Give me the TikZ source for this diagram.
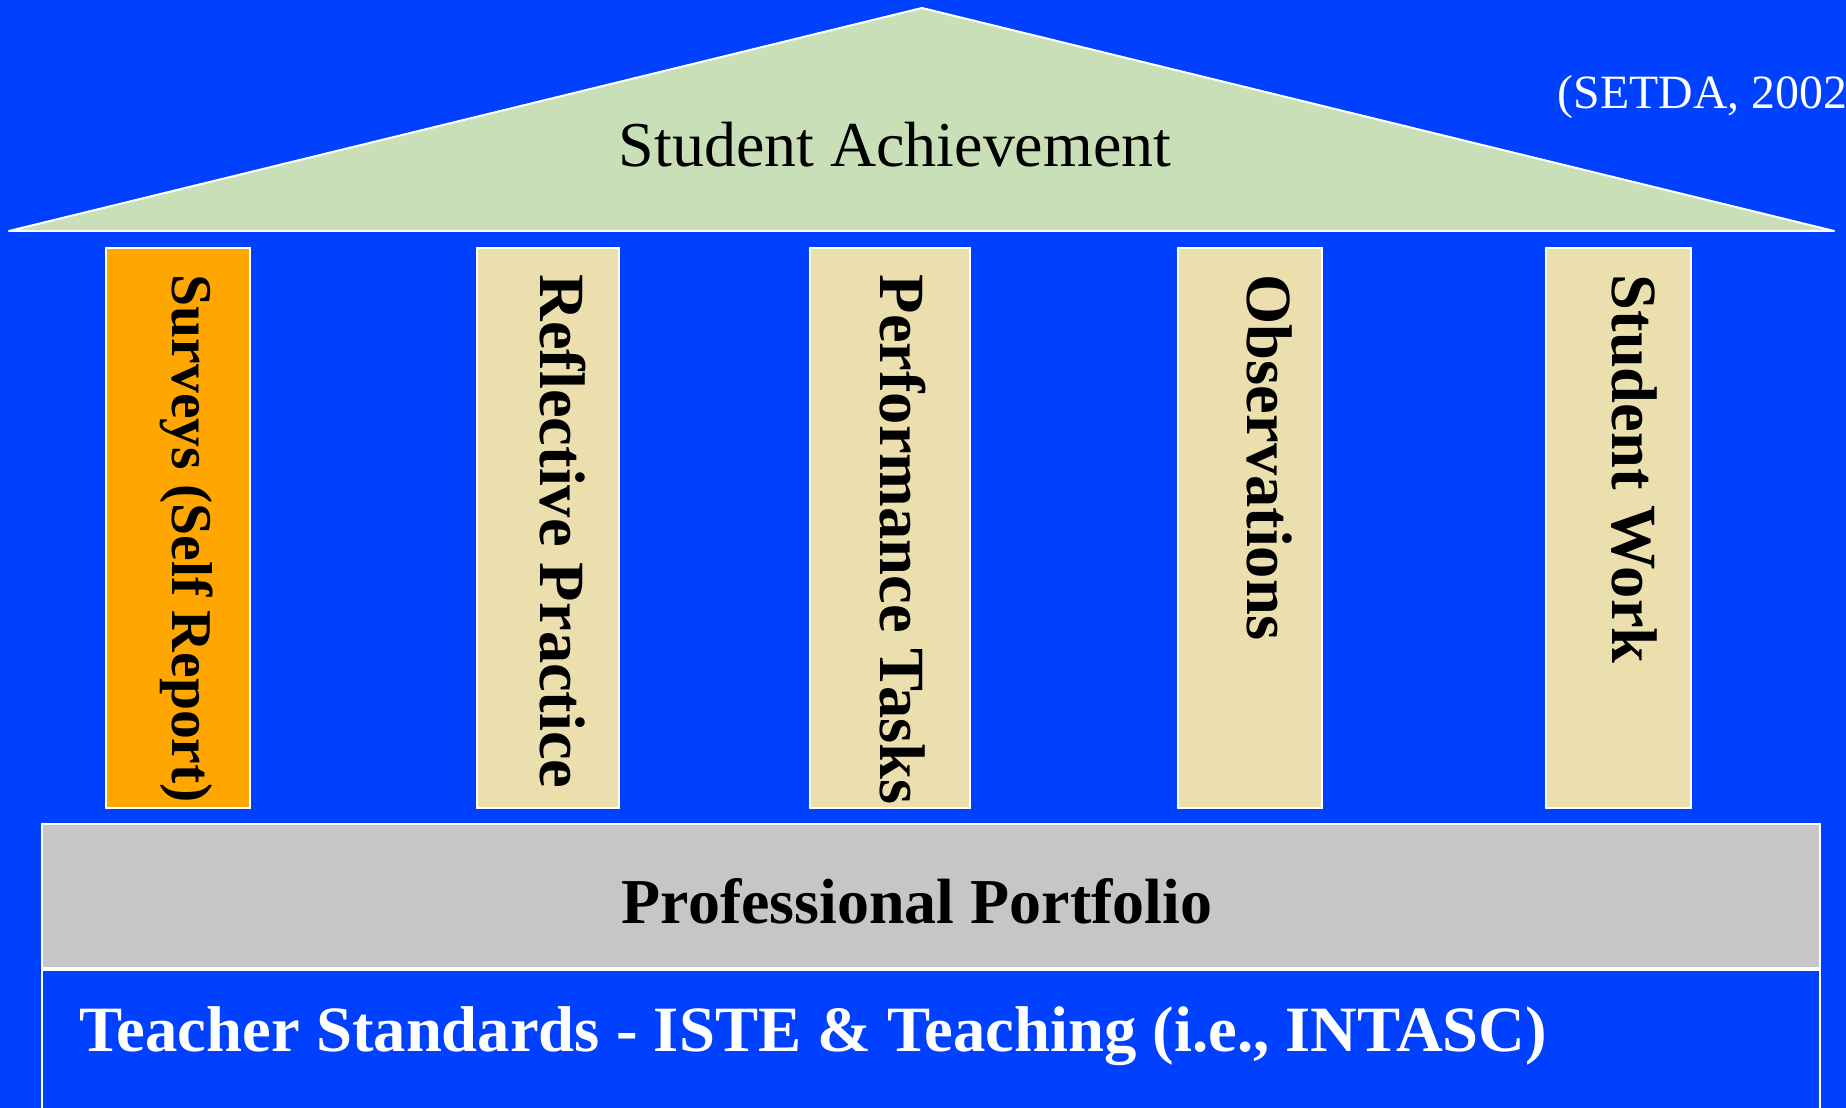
\documentclass[tikz,border=0pt]{standalone}
\usepackage{fontspec}
\setmainfont{Liberation Serif}
\usetikzlibrary{positioning,calc}
\definecolor{slideblue}{RGB}{0,64,255}
\definecolor{roofgreen}{RGB}{200,223,184}
\definecolor{pillarsand}{RGB}{235,224,173}
\definecolor{pillarorange}{RGB}{255,166,0}
\definecolor{basegrey}{RGB}{198,198,198}
\tikzset{
    roof/.style={draw=white, fill=roofgreen, line width=0.2mm, line join=round},
    pillar/.style={rectangle, draw=white, fill=pillarsand, line width=0.2mm, minimum height=56mm, inner sep=0pt},
    pillartext/.style={rotate=-90, anchor=base west, inner sep=0pt, font=\bfseries\fontsize{18.35}{22}\selectfont},
    slab/.style={rectangle, draw=white, line width=0.2mm, minimum width=177.8mm, inner sep=0pt},
    bigtext/.style={anchor=base, inner sep=0pt, font=\fontsize{18.2}{22}\selectfont}
}

\begin{document}
\begin{tikzpicture}[x=0.1mm, y=-0.1mm]
    % backdrop
    \fill[slideblue] (0,0) rectangle (1846,1108);
    \clip (0,0) rectangle (1846,1108);

    % roof
    \filldraw[roof] (9,231) -- (922,8) -- (1834,231) -- cycle;
    \node [bigtext] (goal) at (895,167) {Student Achievement};
    \node [anchor=base west, inner sep=0pt, text=white, font=\fontsize{13.6}{16}\selectfont] (source) at (1557,109) {(SETDA, 2002};

    % pillars
    \node [pillar, fill=pillarorange, minimum width=14.4mm] (surveys) at (178,528) {};
    \node [pillar, minimum width=14.2mm] (reflect) at (548,528) {};
    \node [pillar, minimum width=16.0mm] (tasks) at (890,528) {};
    \node [pillar, minimum width=14.4mm] (observe) at (1250,528) {};
    \node [pillar, minimum width=14.5mm] (work) at (1618,528) {};

    \node [pillartext, font=\bfseries\fontsize{16.4}{20}\selectfont] (surveys text) at ([xshift=-0.6mm, yshift=-2.7mm]surveys.north) {Surveys (Self Report)};
    \node [pillartext] (reflect text) at ([xshift=-0.8mm, yshift=-2.7mm]reflect.north) {Reflective Practice};
    \node [pillartext] (tasks text) at ([xshift=-1.0mm, yshift=-2.7mm]tasks.north) {Performance Tasks};
    \node [pillartext] (observe text) at ([xshift=-0.3mm, yshift=-2.7mm]observe.north) {Observations};
    \node [pillartext] (work text) at ([xshift=-0.6mm, yshift=-2.7mm]work.north) {Student Work};

    % base
    \node [slab, fill=basegrey, minimum height=14.4mm] (portfolio) at (931,896) {};
    \node [slab, fill=slideblue, minimum height=15.2mm, below=0pt of portfolio] (standards) {};
    \node [bigtext, font=\bfseries\fontsize{18.2}{22}\selectfont] (portfolio text) at (917,923) {Professional Portfolio};
    \node [bigtext, anchor=base west, text=white, font=\bfseries\fontsize{18.4}{22}\selectfont] (standards text) at (79,1051) {Teacher Standards - ISTE \& Teaching (i.e., INTASC)};
\end{tikzpicture}
\end{document}
